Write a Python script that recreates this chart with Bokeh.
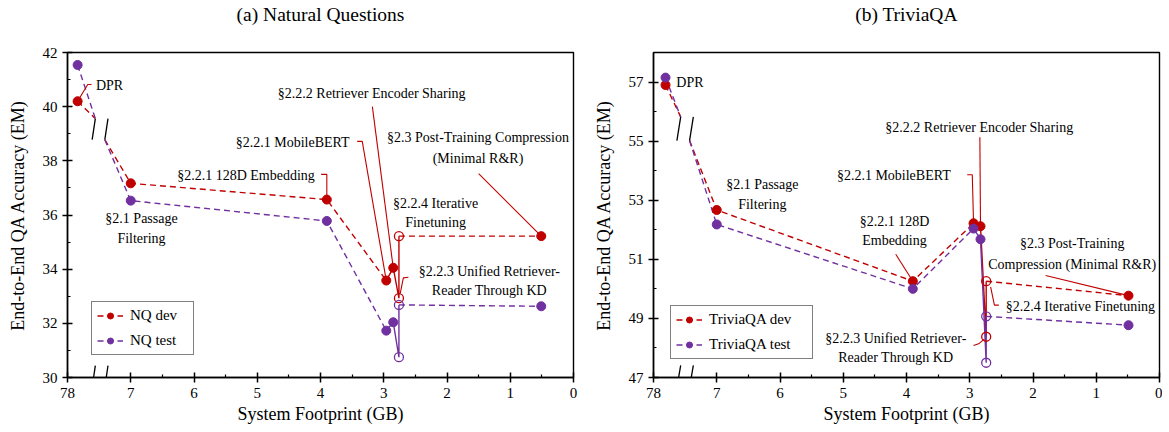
from bokeh.plotting import figure
from bokeh.layouts import row
from bokeh.models import Range1d, FixedTicker, Legend, LegendItem, Arrow
from bokeh.core.properties import value
from bokeh.embed import file_html
from bokeh.resources import INLINE

# ---------------- data ----------------
steps = ["DPR", "§2.1 Passage Filtering", "§2.2.1 128D Embedding", "§2.2.1 MobileBERT",
         "§2.2.2 Retriever Encoder Sharing", "§2.2.3 Unified Retriever-Reader Through KD",
         "§2.2.4 Iterative Finetuning", "§2.3 Post-Training Compression"]
is_open = [False, False, False, False, False, True, True, False]

# footprint positions on the compressed (broken) axis; the DPR value sits past the break (78 GB)
nq_footprint = [7.84, 7.0, 3.9, 2.96, 2.85, 2.76, 2.76, 0.51]
tqa_footprint = [7.81, 7.0, 3.9, 2.94, 2.83, 2.74, 2.74, 0.49]

nq_dev = [40.2, 37.17, 36.57, 33.58, 34.05, 32.93, 35.22, 35.22]
nq_test = [41.54, 36.53, 35.78, 31.73, 32.04, 30.75, 32.68, 32.63]
tqa_dev = [56.9, 52.67, 50.26, 52.22, 52.12, 48.38, 50.26, 49.77]
tqa_test = [57.15, 52.18, 50.0, 52.04, 51.68, 47.5, 49.07, 48.77]

x_ticks = [0, 1, 2, 3, 4, 5, 6, 7, 8]
x_minor = [0.5, 1.5, 2.5, 3.5, 4.5, 5.5, 6.5]
x_tick_labels = {8: "78"}
nq_y_ticks = [30, 32, 34, 36, 38, 40, 42]
nq_y_minor = [31, 33, 35, 37, 39, 41]
tqa_y_ticks = [47, 49, 51, 53, 55, 57]
tqa_y_minor = [48, 50, 52, 54, 56, 58]

DEV_C = "#C00000"
TEST_C = "#7030A0"
FONT = "Liberation Serif"


def edge(p, x0, y0, x1, y1, w):
    p.add_layout(Arrow(end=None, x_start=x0, y_start=y0, x_end=x1, y_end=y1,
                       line_color="black", line_width=w))


def make_plot(title, fp, dev, test, yr, yticks, yminor, labels, notes, leaders, brk,
              width, bl, br, leg_loc, leg_lw):
    p = figure(width=width, height=430, output_backend="svg", toolbar_location=None,
               x_range=Range1d(8, 0), y_range=Range1d(yr[0], yr[1]),
               min_border_left=bl, min_border_right=br, min_border_top=52, min_border_bottom=53,
               background_fill_color="white", border_fill_color="white")
    p.title.text = title + "\n\u00a0"
    p.title.align = "center"
    p.title.text_font = FONT
    p.title.text_font_size = "19.5px"
    p.title.text_font_style = "normal"
    p.title.text_color = "black"
    p.title.text_line_height = 1.2
    p.title.standoff = 4
    p.xgrid.visible = False
    p.ygrid.visible = False
    # plot frame (box around the data area)
    p.outline_line_color = "black"
    p.outline_line_width = 1.4
    p.outline_line_alpha = 1.0

    xb = p.below[0]
    yl = p.left[0]
    for ax in (xb, yl):
        ax.axis_line_color = "black"
        ax.axis_line_width = 1.5
        ax.major_tick_line_color = "black"
        ax.major_tick_line_width = 1.5
        ax.minor_tick_line_color = "black"
        ax.minor_tick_line_width = 1.2
        ax.major_tick_in = 5
        ax.major_tick_out = 5
        ax.minor_tick_in = 3
        ax.minor_tick_out = 0
        ax.major_label_standoff = 5
        ax.major_label_text_font = FONT
        ax.major_label_text_font_size = "15px"
        ax.major_label_text_color = "black"
        ax.axis_label_text_font = FONT
        ax.axis_label_text_font_size = "18px"
        ax.axis_label_text_font_style = "normal"
        ax.axis_label_text_color = "black"
    xb.ticker = FixedTicker(ticks=x_ticks, minor_ticks=x_minor)
    xb.major_label_overrides = x_tick_labels
    yl.ticker = FixedTicker(ticks=yticks, minor_ticks=yminor)
    xb.axis_label = "System Footprint (GB)"
    yl.axis_label = "End-to-End QA Accuracy (EM)"
    yl.axis_label_standoff = 12
    xb.axis_label_standoff = 3

    (b1x, b1y), (b2x, b2y) = brk["line_pts"]
    rends = {}
    for vals, col, key in ((dev, DEV_C, "dev"), (test, TEST_C, "test")):
        dashed_xs = [[fp[0], b1x], [b2x, fp[1], fp[2], fp[3]], [fp[6], fp[7]]]
        dashed_ys = [[vals[0], b1y], [b2y, vals[1], vals[2], vals[3]], [vals[6], vals[7]]]
        d = p.multi_line(dashed_xs, dashed_ys, line_color=col, line_width=1.4, line_dash="6 4")
        p.line(fp[3:7], vals[3:7], line_color=col, line_width=1.4)
        rends[key] = [d]
        rends[key + "_c"] = col
        rends[key + "_v"] = vals

    # leader lines
    lx = [[pt[0] for pt in L] for L in leaders]
    ly = [[pt[1] for pt in L] for L in leaders]
    p.multi_line(lx, ly, line_color=DEV_C, line_width=1.1)

    # markers
    for key in ("dev", "test"):
        col = rends[key + "_c"]
        vals = rends[key + "_v"]
        fx = [x for x, o in zip(fp, is_open) if not o]
        fy = [y for y, o in zip(vals, is_open) if not o]
        ox = [x for x, o in zip(fp, is_open) if o]
        oy = [y for y, o in zip(vals, is_open) if o]
        s = p.scatter(fx, fy, marker="circle", size=9, fill_color=col, line_color=col)
        p.scatter(ox, oy, marker="circle", size=9, fill_color=None, line_color=col, line_width=1.3)
        rends[key].append(s)

    # break marks
    for (x0, y0, x1, y1) in brk["marks"] + brk["axis_marks"]:
        edge(p, x0, y0, x1, y1, 1.3)

    # annotation texts
    for align in ("left", "center", "right"):
        sel = [n for n in notes if n[3] == align]
        if sel:
            p.text([n[1] for n in sel], [n[2] for n in sel], text=[n[0] for n in sel],
                   text_align=align, text_baseline="middle", text_font=value(FONT),
                   text_font_size="14px", text_color="black")

    legend = Legend(items=[LegendItem(label=labels[0], renderers=rends["dev"]),
                           LegendItem(label=labels[1], renderers=rends["test"])],
                    location=leg_loc, label_text_font=FONT, label_text_font_size="15px",
                    label_text_color="black", glyph_width=26, glyph_height=15, label_height=15,
                    label_width=leg_lw, spacing=8, padding=5, margin=0, label_standoff=7,
                    border_line_color="black", border_line_width=1.2, background_fill_alpha=1.0)
    p.add_layout(legend)
    return p


nq_notes = [
    ("DPR", 7.55, 40.78, "left"),
    ("§2.1 Passage", 6.83, 35.86, "center"),
    ("Filtering", 6.83, 35.12, "center"),
    ("§2.2.1 128D Embedding", 4.09, 37.46, "right"),
    ("§2.2.1 MobileBERT", 3.54, 38.68, "right"),
    ("§2.2.2 Retriever Encoder Sharing", 3.19, 40.47, "center"),
    ("§2.3 Post-Training Compression", 1.51, 38.85, "center"),
    ("(Minimal R&R)", 1.51, 38.1, "center"),
    ("§2.2.4 Iterative", 2.18, 36.43, "center"),
    ("Finetuning", 2.18, 35.73, "center"),
    ("§2.2.3 Unified Retriever-", 1.33, 33.92, "center"),
    ("Reader Through KD", 1.33, 33.21, "center"),
]
nq_leaders = [
    [(nq_footprint[0], nq_dev[0]), (7.68, 40.82), (7.62, 40.82)],
    [(3.18, 40.0), (nq_footprint[4], nq_dev[4])],
    [(3.42, 38.72), (3.34, 38.72), (nq_footprint[3], nq_dev[3])],
    [(3.99, 37.5), (nq_footprint[2], 37.5), (nq_footprint[2], nq_dev[2])],
    [(1.5, 37.53), (nq_footprint[7], nq_dev[7])],
    [(2.61, 33.7), (2.69, 33.68), (nq_footprint[5] - 0.02, nq_dev[5] + 0.17)],
]
nq_brk = {
    "line_pts": [(7.56, 39.56), (7.41, 38.78)],
    "marks": [(7.61, 38.78, 7.56, 39.56), (7.41, 38.78, 7.36, 39.56)],
    "axis_marks": [(7.61, 29.64, 7.56, 30.44), (7.41, 29.64, 7.36, 30.44)],
}

tqa_notes = [
    ("DPR", 7.64, 56.98, "left"),
    ("§2.1 Passage", 6.28, 53.54, "center"),
    ("Filtering", 6.28, 52.86, "center"),
    ("§2.2.1 128D", 4.19, 52.29, "center"),
    ("Embedding", 4.19, 51.63, "center"),
    ("§2.2.1 MobileBERT", 3.30, 53.83, "right"),
    ("§2.2.2 Retriever Encoder Sharing", 2.85, 55.47, "center"),
    ("§2.3 Post-Training", 1.38, 51.52, "center"),
    ("Compression (Minimal R&R)", 1.38, 50.83, "center"),
    ("§2.2.4 Iterative Finetuning", 2.43, 49.42, "left"),
    ("§2.2.3 Unified Retriever-", 4.17, 48.33, "center"),
    ("Reader Through KD", 4.17, 47.67, "center"),
]
tqa_leaders = [
    [(2.84, 55.13), (tqa_footprint[4], tqa_dev[4])],
    [(3.04, 53.86), (2.96, 53.86), (tqa_footprint[3], tqa_dev[3])],
    [(4.17, 51.17), (tqa_footprint[2], tqa_dev[2])],
    [(1.8, 50.45), (tqa_footprint[7], tqa_dev[7])],
    [(2.67, 50.07), (2.61, 49.45), (2.54, 49.45)],
    [(2.94, 48.08), (2.86, 48.14), (2.77, 48.3)],
]
tqa_brk = {
    "line_pts": [(7.57, 55.82), (7.43, 55.02)],
    "marks": [(7.63, 55.02, 7.57, 55.82), (7.43, 55.02, 7.37, 55.82)],
    "axis_marks": [(7.63, 46.67, 7.57, 47.41), (7.43, 46.67, 7.37, 47.41)],
}

p1 = make_plot("(a) Natural Questions", nq_footprint, nq_dev, nq_test, (30, 42), nq_y_ticks,
               nq_y_minor, ["NQ dev", "NQ test"], nq_notes, nq_leaders, nq_brk,
               590, 67, 17, (24, 22), 58)
p2 = make_plot("(b) TriviaQA", tqa_footprint, tqa_dev, tqa_test, (47, 58), tqa_y_ticks,
               tqa_y_minor, ["TriviaQA dev", "TriviaQA test"], tqa_notes, tqa_leaders,
               tqa_brk, 572, 63, 3, (17, 18), 98)

layout = row(p1, p2)
open("out.html", "w").write(file_html(layout, INLINE))
